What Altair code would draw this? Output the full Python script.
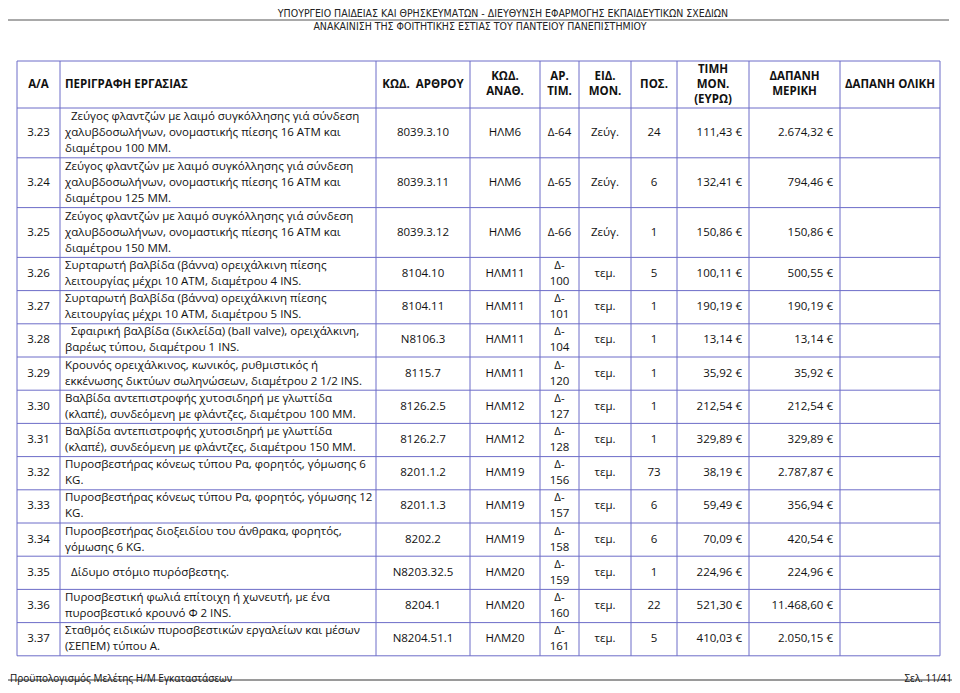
import altair as alt
import pandas as pd

# ---------------- data ----------------
aa = ["3.23", "3.24", "3.25", "3.26", "3.27", "3.28", "3.29", "3.30",
      "3.31", "3.32", "3.33", "3.34", "3.35", "3.36", "3.37"]

descriptions = [
    "  Ζεύγος φλαντζών με λαιμό συγκόλλησης γιά σύνδεση\nχαλυβδοσωλήνων, ονομαστικής πίεσης 16 ΑΤΜ και\nδιαμέτρου 100 ΜΜ.",
    "Ζεύγος φλαντζών με λαιμό συγκόλλησης γιά σύνδεση\nχαλυβδοσωλήνων, ονομαστικής πίεσης 16 ΑΤΜ και\nδιαμέτρου 125 ΜΜ.",
    "Ζεύγος φλαντζών με λαιμό συγκόλλησης γιά σύνδεση\nχαλυβδοσωλήνων, ονομαστικής πίεσης 16 ΑΤΜ και\nδιαμέτρου 150 ΜΜ.",
    "Συρταρωτή βαλβίδα (βάννα) ορειχάλκινη πίεσης\nλειτουργίας μέχρι 10 ΑΤΜ, διαμέτρου 4 INS.",
    "Συρταρωτή βαλβίδα (βάννα) ορειχάλκινη πίεσης\nλειτουργίας μέχρι 10 ΑΤΜ, διαμέτρου 5 INS.",
    "  Σφαιρική βαλβίδα (δικλείδα) (ball valve), ορειχάλκινη,\nβαρέως τύπου, διαμέτρου 1 INS.",
    "Κρουνός ορειχάλκινος, κωνικός, ρυθμιστικός ή\nεκκένωσης δικτύων σωληνώσεων, διαμέτρου 2 1/2 INS.",
    "Βαλβίδα αντεπιστροφής χυτοσιδηρή με γλωττίδα\n(κλαπέ), συνδεόμενη με φλάντζες, διαμέτρου 100 ΜΜ.",
    "Βαλβίδα αντεπιστροφής χυτοσιδηρή με γλωττίδα\n(κλαπέ), συνδεόμενη με φλάντζες, διαμέτρου 150 ΜΜ.",
    "Πυροσβεστήρας κόνεως τύπου Ρα, φορητός, γόμωσης 6\nKG.",
    "Πυροσβεστήρας κόνεως τύπου Ρα, φορητός, γόμωσης 12\nKG.",
    "Πυροσβεστήρας διοξειδίου του άνθρακα, φορητός,\nγόμωσης 6 KG.",
    "  Δίδυμο στόμιο πυρόσβεστης.",
    "Πυροσβεστική φωλιά επίτοιχη ή χωνευτή, με ένα\nπυροσβεστικό κρουνό Φ 2 INS.",
    "Σταθμός ειδικών πυροσβεστικών εργαλείων και μέσων\n(ΣΕΠΕΜ) τύπου Α.",
]

codes = ["8039.3.10", "8039.3.11", "8039.3.12", "8104.10", "8104.11", "N8106.3",
         "8115.7", "8126.2.5", "8126.2.7", "8201.1.2", "8201.1.3", "8202.2",
         "N8203.32.5", "8204.1", "N8204.51.1"]

assigned = ["ΗΛΜ6", "ΗΛΜ6", "ΗΛΜ6", "ΗΛΜ11", "ΗΛΜ11", "ΗΛΜ11", "ΗΛΜ11",
            "ΗΛΜ12", "ΗΛΜ12", "ΗΛΜ19", "ΗΛΜ19", "ΗΛΜ19", "ΗΛΜ20", "ΗΛΜ20", "ΗΛΜ20"]

price_refs = ["Δ-64", "Δ-65", "Δ-66", "Δ-100", "Δ-101", "Δ-104", "Δ-120", "Δ-127",
              "Δ-128", "Δ-156", "Δ-157", "Δ-158", "Δ-159", "Δ-160", "Δ-161"]

units = ["Ζεύγ.", "Ζεύγ.", "Ζεύγ."] + ["τεμ."] * 12

quantities = [24, 6, 1, 5, 1, 1, 1, 1, 1, 73, 6, 6, 1, 22, 5]

unit_prices = [111.43, 132.41, 150.86, 100.11, 190.19, 13.14, 35.92, 212.54,
               329.89, 38.19, 59.49, 70.09, 224.96, 521.30, 410.03]

partial_costs = [2674.32, 794.46, 150.86, 500.55, 190.19, 13.14, 35.92, 212.54,
                 329.89, 2787.87, 356.94, 420.54, 224.96, 11468.60, 2050.15]

headers = ["Α/Α", "ΠΕΡΙΓΡΑΦΗ ΕΡΓΑΣΙΑΣ", "ΚΩΔ.\u00a0\u00a0ΑΡΘΡΟΥ", "ΚΩΔ.\nΑΝΑΘ.",
           "ΑΡ.\nΤΙΜ.", "ΕΙΔ.\nΜΟΝ.", "ΠΟΣ.", "ΤΙΜΗ\nΜΟΝ.\n(ΕΥΡΩ)",
           "ΔΑΠΑΝΗ\nΜΕΡΙΚΗ", "ΔΑΠΑΝΗ ΟΛΙΚΗ"]

page_title_1 = "ΥΠΟΥΡΓΕΙΟ ΠΑΙΔΕΙΑΣ ΚΑΙ ΘΡΗΣΚΕΥΜΑΤΩΝ - ΔΙΕΥΘΥΝΣΗ ΕΦΑΡΜΟΓΗΣ ΕΚΠΑΙΔΕΥΤΙΚΩΝ ΣΧΕΔΙΩΝ"
page_title_2 = "ΑΝΑΚΑΙΝΙΣΗ ΤΗΣ ΦΟΙΤΗΤΙΚΗΣ ΕΣΤΙΑΣ ΤΟΥ ΠΑΝΤΕΙΟΥ ΠΑΝΕΠΙΣΤΗΜΙΟΥ"
footer_left = "Προϋπολογισμός Μελέτης Η/Μ Εγκαταστάσεων"
footer_right = "Σελ. 11/41"

# ---------------- layout (page pixel coordinates) ----------------
col_edges = [17, 60, 376, 470, 540, 579, 631, 677, 749, 840, 940]
table_top = 61
header_h = 47
row_line_h = 16.6
LH = 16          # text line height
HLH = 15         # header line height
FONT = "Open Sans"
FS = 11.5
LINE_COLOR = "#6d6dc8"
INDENT = 6


def eur(v):
    s = f"{v:,.2f}".replace(",", "X").replace(".", ",").replace("X", ".")
    return s + " €"


def wrap_ref(r):
    return r if len(r) <= 4 else r.replace("-", "-\n", 1)


def first_line_y(mid, text, lh):
    return mid - text.count("\n") * lh / 2


refs_disp = [wrap_ref(r) for r in price_refs]
n_lines = [max(d.count("\n"), r.count("\n")) + 1 for d, r in zip(descriptions, refs_disp)]

bounds = [table_top, table_top + header_h]
for n in n_lines:
    bounds.append(bounds[-1] + row_line_h * n)
mids = [(bounds[i + 1] + bounds[i + 2]) / 2 for i in range(len(aa))]
hdr_mid = table_top + header_h / 2

centers = [(col_edges[i] + col_edges[i + 1]) / 2 for i in range(len(col_edges) - 1)]


def cell(x, mid, t, lh=LH):
    return {"x": x, "y": first_line_y(mid, t, lh), "t": t}


center_rows, left_rows, right_rows, indent_rows = [], [], [], []
for i in range(len(aa)):
    m = mids[i]
    center_rows += [
        cell(centers[0], m, aa[i]),
        cell(centers[2], m, codes[i]),
        cell(centers[3], m, assigned[i]),
        cell(centers[4], m, refs_disp[i]),
        cell(centers[5], m, units[i]),
        cell(centers[6], m, str(quantities[i])),
    ]
    d = descriptions[i]
    if d.startswith(" "):
        # first line indented, the rest flush
        first, _, rest = d.strip(" ").partition("\n")
        y0 = first_line_y(m, d, LH)
        indent_rows.append({"x": col_edges[1] + 5 + INDENT, "y": y0, "t": first})
        if rest:
            left_rows.append({"x": col_edges[1] + 5, "y": y0 + LH, "t": rest})
    else:
        left_rows.append(cell(col_edges[1] + 5, m, d))
    right_rows += [
        cell(col_edges[8] - 7, m, eur(unit_prices[i])),
        cell(col_edges[9] - 7, m, eur(partial_costs[i])),
    ]
left_rows += indent_rows

hdr_center = [cell(centers[j], hdr_mid, headers[j], HLH) for j in range(len(headers)) if j != 1]
hdr_left = [cell(col_edges[1] + 5, hdr_mid, headers[1], HLH)]

hlines = [{"x": col_edges[0], "x2": col_edges[-1], "y": b} for b in bounds]
vlines = [{"x": e, "y": bounds[0], "y2": bounds[-1]} for e in col_edges]

X = alt.Scale(domain=[8, 952], nice=False, zero=False)
Y = alt.Scale(domain=[8, 685], nice=False, zero=False, reverse=True)


def enc_xy():
    return dict(x=alt.X("x:Q", scale=X, axis=None), y=alt.Y("y:Q", scale=Y, axis=None))


def text_layer(rows, align, bold=False, size=FS, font=FONT, color="#111111", baseline="middle", lh=LH):
    return alt.Chart(pd.DataFrame(rows)).mark_text(
        align=align, baseline=baseline, font=font, fontSize=size,
        fontWeight="bold" if bold else "normal", color=color, lineBreak="\n", lineHeight=lh
    ).encode(text="t:N", **enc_xy())


grid_h = alt.Chart(pd.DataFrame(hlines)).mark_rule(color=LINE_COLOR, strokeWidth=1).encode(
    x=alt.X("x:Q", scale=X, axis=None), x2="x2:Q", y=alt.Y("y:Q", scale=Y, axis=None))
grid_v = alt.Chart(pd.DataFrame(vlines)).mark_rule(color=LINE_COLOR, strokeWidth=1).encode(
    x=alt.X("x:Q", scale=X, axis=None), y=alt.Y("y:Q", scale=Y, axis=None), y2="y2:Q")

page_rules = alt.Chart(pd.DataFrame([
    {"x": 7, "x2": 949, "y": 20},
])).mark_rule(color="#555555", strokeWidth=1).encode(
    x=alt.X("x:Q", scale=X, axis=None), x2="x2:Q", y=alt.Y("y:Q", scale=Y, axis=None))
foot_rule = alt.Chart(pd.DataFrame([
    {"x": 1, "x2": 957, "y": 680},
])).mark_rule(color="#9a9a9a", strokeWidth=2).encode(
    x=alt.X("x:Q", scale=X, axis=None), x2="x2:Q", y=alt.Y("y:Q", scale=Y, axis=None))

COND = "'Liberation Sans Narrow', 'DejaVu Sans Condensed', sans-serif"
titles = text_layer([{"x": 503, "y": 14, "t": page_title_1}, {"x": 480, "y": 27, "t": page_title_2}],
                    "center", size=10.5, font=COND, baseline="middle", color="#222222")
foot_l = text_layer([{"x": 10, "y": 684, "t": footer_left}], "left", size=10, baseline="bottom")
foot_r = text_layer([{"x": 952, "y": 684, "t": footer_right}], "right", size=10, baseline="bottom")

chart = alt.layer(
    grid_h, grid_v, page_rules, foot_rule,
    text_layer(center_rows, "center"),
    text_layer(left_rows, "left"),
    text_layer(right_rows, "right"),
    text_layer(hdr_center, "center", bold=True, lh=HLH),
    text_layer(hdr_left, "left", bold=True, lh=HLH),
    titles, foot_l, foot_r,
).properties(
    width=944, height=677, autosize=alt.AutoSizeParams(type="none"), padding=0, background="white"
).configure_view(stroke=None)

chart.save("out.html", embed_options={"renderer": "svg", "actions": False})
